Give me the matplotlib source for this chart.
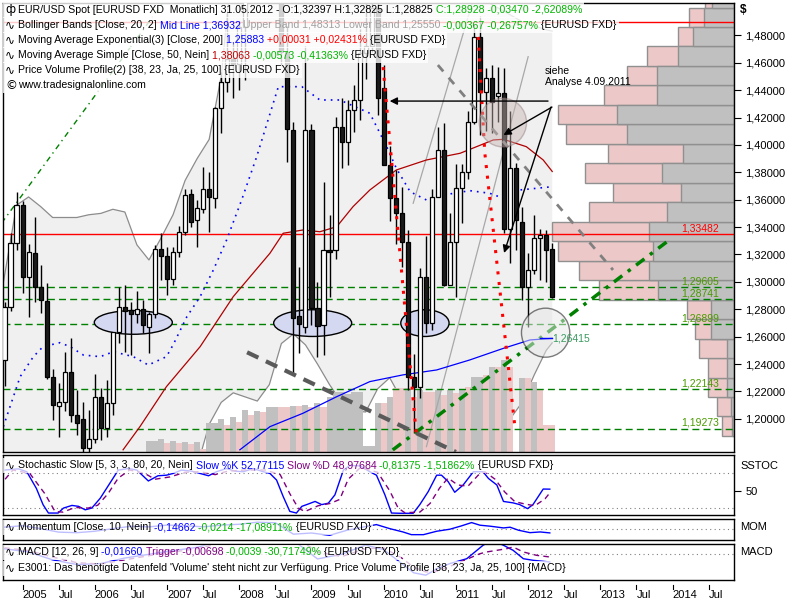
import matplotlib
matplotlib.use("Agg")
import matplotlib.pyplot as plt
import numpy as np
from matplotlib.patches import Ellipse, Rectangle
from matplotlib.ticker import FuncFormatter

plt.rcParams['font.family'] = ['Liberation Sans', 'DejaVu Sans']

# month index 0 = Oct 2004 ... 91 = May 2012
opens = [1.2430, 1.2813, 1.3286, 1.3560, 1.3038, 1.3209, 1.2960, 1.2861, 1.2308, 1.2095,
         1.2125, 1.2340, 1.2028, 1.1997, 1.1785, 1.1851, 1.2157, 1.1931, 1.2118, 1.2632,
         1.2815, 1.2795, 1.2766, 1.2805, 1.2673, 1.2764, 1.3238, 1.3189, 1.3019, 1.3220,
         1.3366, 1.3639, 1.3452, 1.3530, 1.3676, 1.3610, 1.4267, 1.4461, 1.4630, 1.4590,
         1.4860, 1.5185, 1.5790, 1.5600, 1.5550, 1.5765, 1.5605, 1.4675, 1.4109, 1.2750,
         1.2673, 1.4109, 1.2807, 1.2685, 1.3233, 1.3233, 1.4133, 1.4023, 1.4255, 1.4328,
         1.4669, 1.4720, 1.5000, 1.4413, 1.3853, 1.3610, 1.3501, 1.3293, 1.2308, 1.2235,
         1.3038, 1.2698, 1.3622, 1.3963, 1.2977, 1.3293, 1.3683, 1.3804, 1.4169, 1.4790,
         1.4388, 1.4486, 1.4357, 1.4377, 1.3384, 1.3829, 1.3440, 1.2965, 1.3087, 1.3318,
         1.3342, 1.32397]
highs = [1.2850, 1.3357, 1.3656, 1.3590, 1.3277, 1.3474, 1.3123, 1.2990, 1.2364, 1.2260,
         1.2486, 1.2588, 1.2211, 1.2125, 1.2065, 1.2328, 1.2223, 1.2284, 1.2632, 1.2965,
         1.2977, 1.2856, 1.2936, 1.2868, 1.2780, 1.3269, 1.3359, 1.3257, 1.3255, 1.3408,
         1.3676, 1.3680, 1.3598, 1.3841, 1.3800, 1.4280, 1.4534, 1.4965, 1.4750, 1.4905,
         1.5240, 1.5905, 1.6020, 1.5845, 1.5845, 1.6040, 1.5630, 1.4865, 1.4169, 1.3111,
         1.4720, 1.4150, 1.3000, 1.3731, 1.3490, 1.4206, 1.4340, 1.4328, 1.4437, 1.4845,
         1.5065, 1.5145, 1.5145, 1.4580, 1.3990, 1.3815, 1.3690, 1.3380, 1.2470, 1.3100,
         1.3335, 1.3680, 1.4133, 1.4158, 1.3500, 1.3860, 1.3860, 1.4250, 1.4880, 1.4940,
         1.4559, 1.4580, 1.4571, 1.4560, 1.4250, 1.3870, 1.3550, 1.3209, 1.3485, 1.3385,
         1.3380, 1.32825]
lows = [1.2240, 1.2790, 1.3230, 1.2921, 1.2742, 1.2853, 1.2771, 1.2290, 1.1992, 1.1870,
        1.2060, 1.1980, 1.1883, 1.1640, 1.1710, 1.1824, 1.1846, 1.1870, 1.2028, 1.2556,
        1.2490, 1.2466, 1.2698, 1.2625, 1.2483, 1.2734, 1.3014, 1.2904, 1.2977, 1.3180,
        1.3340, 1.3403, 1.3257, 1.3500, 1.3366, 1.3537, 1.4087, 1.4388, 1.4340, 1.4400,
        1.4474, 1.5075, 1.5515, 1.5285, 1.5305, 1.5535, 1.4580, 1.3877, 1.2333, 1.2479,
        1.2624, 1.2686, 1.2455, 1.2466, 1.2890, 1.3165, 1.3829, 1.3850, 1.4096, 1.4182,
        1.4480, 1.4680, 1.4215, 1.3850, 1.3445, 1.3275, 1.3110, 1.2211, 1.1897, 1.2150,
        1.2625, 1.2650, 1.3650, 1.2970, 1.3000, 1.2892, 1.3430, 1.3750, 1.4150, 1.4072,
        1.4100, 1.4087, 1.4169, 1.3360, 1.3140, 1.3230, 1.2868, 1.2673, 1.3060, 1.3014,
        1.3000, 1.28825]
closes = [1.2813, 1.3286, 1.3560, 1.3038, 1.3220, 1.2960, 1.2868, 1.2308, 1.2101, 1.2125,
          1.2340, 1.2028, 1.1972, 1.1785, 1.1851, 1.2157, 1.1931, 1.2118, 1.2632, 1.2815,
          1.2790, 1.2766, 1.2805, 1.2686, 1.2764, 1.3238, 1.3189, 1.3019, 1.3220, 1.3362,
          1.3634, 1.3440, 1.3537, 1.3676, 1.3622, 1.4267, 1.4461, 1.4630, 1.4590, 1.4860,
          1.5185, 1.5790, 1.5600, 1.5550, 1.5765, 1.5605, 1.4675, 1.4115, 1.2734, 1.2693,
          1.4109, 1.2807, 1.2678, 1.3233, 1.3220, 1.4133, 1.4023, 1.4255, 1.4328, 1.4669,
          1.4720, 1.5000, 1.4340, 1.3853, 1.3610, 1.3501, 1.3293, 1.2308, 1.2235, 1.3038,
          1.2698, 1.3622, 1.3963, 1.2977, 1.3293, 1.3683, 1.3804, 1.4169, 1.4790, 1.4388,
          1.4486, 1.4315, 1.4377, 1.3384, 1.3829, 1.3452, 1.2965, 1.3087, 1.3318, 1.3342,
          1.3233, 1.28928]

# Bollinger bands
bb_i = [-0.25, 2, 4, 6, 8, 10, 12, 14, 16, 18, 20, 22, 24, 26, 28, 30, 32, 34, 36, 38,
        40, 42, 44, 46, 48, 50, 52, 54, 56, 58, 60, 62, 64, 66, 68, 70, 72, 74, 76, 78,
        80, 82, 84, 86, 88, 90, 91]
bb_upper = [1.298, 1.356, 1.362, 1.355, 1.347, 1.347, 1.347, 1.349, 1.350, 1.353, 1.351,
            1.327, 1.316, 1.332, 1.349, 1.374, 1.390, 1.404, 1.450, 1.54, 1.60, 1.64, 1.66,
            1.67, 1.68, 1.67, 1.66, 1.64, 1.62, 1.60, 1.58, 1.57, 1.565, 1.56, 1.56, 1.55,
            1.54, 1.53, 1.52, 1.51, 1.505, 1.50, 1.495, 1.49, 1.487, 1.484, 1.4831]
bb_lower = [1.13, 1.13, 1.13, 1.13, 1.13, 1.13, 1.13, 1.13, 1.13, 1.13, 1.13, 1.13, 1.13,
            1.13, 1.14, 1.15, 1.165, 1.196, 1.212, 1.219, 1.216, 1.213, 1.225, 1.255, 1.262,
            1.254, 1.240, 1.225, 1.212, 1.206, 1.205, 1.222, 1.230, 1.214, 1.196, 1.182,
            1.176, 1.172, 1.172, 1.176, 1.180, 1.190, 1.200, 1.212, 1.232, 1.250, 1.2555]
mid_i = [-0.2, 2.6, 4.8, 6.4, 9.2, 10.9, 13.1, 15.9, 18.1, 21.4, 23.9, 26.9, 28.0, 30.3,
         32.5, 34.7, 36.9, 39.4, 41.9, 45.5, 49.4, 52.4, 55.7, 60.7, 63.5, 65.1, 67.4,
         70.1, 72.9, 77.3, 80.6, 82.9, 85.6, 90.6]
mid_p = [1.1943, 1.2308, 1.2454, 1.2527, 1.2556, 1.2527, 1.2466, 1.2454, 1.2490, 1.2454,
         1.2393, 1.2454, 1.2539, 1.2746, 1.2892, 1.3087, 1.3306, 1.3598, 1.3914, 1.4425,
         1.4425, 1.4328, 1.4328, 1.4231, 1.3987, 1.3829, 1.3658, 1.3598, 1.3634, 1.3666,
         1.3647, 1.3610, 1.3671, 1.3693]

sma_i = [19.7, 22.5, 26.9, 32.5, 38.0, 44.1, 46.3, 49.6, 52.4, 55.2, 57.9, 60.7, 65.1,
         70.1, 75.7, 81.2, 82.9, 86.7, 89.5, 91.0]
sma_p = [1.1774, 1.1943, 1.2235, 1.2527, 1.2892, 1.3209, 1.3355, 1.3379, 1.3366, 1.3403,
         1.3549, 1.3671, 1.3817, 1.3890, 1.3939, 1.4036, 1.4041, 1.3987, 1.3890, 1.3806]
ema_i = [39.1, 44.1, 49.6, 55.2, 60.7, 66.2, 71.8, 77.3, 82.9, 87.3, 91.0]
ema_p = [1.1774, 1.1943, 1.2041, 1.2162, 1.2272, 1.2321, 1.2357, 1.2430, 1.2515, 1.2576,
         1.2588]

# price volume profile, 23 rows between period low and high
pvp_low, pvp_high, pvp_rows = 1.1875, 1.5145, 23
pvp_total = [11.7, 17.3, 25.7, 25.7, 34.7, 38.7, 47.3, 135.3, 154.7, 175.7, 181.7, 144.7,
             120.7, 148.7, 126.3, 168.3, 175.7, 129.7, 107.3, 86.7, 55.7, 44.7, 29.0]
pvp_grey = [2.0, 3.0, 6.7, 6.7, 6.7, 23.3, 23.3, 75.7, 84.7, 81.3, 84.7, 67.3, 53.3, 72.3,
            50.7, 106.7, 117.3, 76.7, 76.7, 55.7, 40.7, 29.7, 22.0]

# volume histogram at the bottom of the price panel
vol_i = list(range(24, 92))
vol_h = [11, 11, 13, 9, 11, 9, 10, 8, 10, 3, 29, 29, 33, 27, 35, 30, 42, 37, 41, 40,
         45, 45, 45, 45, 46, 46, 47, 45, 49, 45, 55, 60, 60, 58, 60, 60, 6, 6, 49, 49,
         55, 64, 64, 64, 55, 62, 60, 60, 62, 57, 62, 59, 62, 65, 75, 75, 77, 85, 85, 92,
         85, 0, 74, 74, 70, 62, 27, 27]
vol_pink = [0, 0, 0, 1, 0, 1, 0, 1, 0, 1, 0, 0, 0, 1, 0, 1, 0, 1, 0, 1,
            0, 0, 1, 1, 0, 1, 0, 1, 0, 1, 0, 0, 0, 0, 0, 0, 0, 0, 0, 1,
            0, 1, 1, 0, 1, 0, 1, 1, 0, 1, 0, 1, 0, 1, 0, 0, 1, 0, 1, 0,
            1, 0, 0, 1, 0, 1, 1, 1]

levels_green = [1.29605, 1.28741, 1.26899, 1.22143, 1.19273]
level_red = 1.33482
level_top = 1.4899

stoch_k_i = [0.1, 2.3, 3.7, 5.3, 6.4, 7.3, 8.9, 9.8, 11.2, 12.3, 13.4, 14.5, 15.9, 17.5,
             18.9, 20.6, 22.0, 23.9, 25.5, 26.9, 28.0, 29.4, 31.1, 32.5, 33.9, 35.2, 36.9,
             38.3, 39.7, 41.3, 43.0, 44.1, 45.2, 46.3, 47.4, 48.5, 49.4, 50.2, 51.6, 52.7,
             53.8, 54.9, 56.3, 57.4, 59.1, 60.7, 61.8, 63.2, 64.3, 65.7, 67.9, 69.0, 70.4,
             71.8, 72.6, 73.7, 74.8, 76.2, 77.9, 79.5, 80.4, 81.8, 82.9, 84.5, 85.6, 86.9,
             87.8, 89.5, 90.6]
stoch_k = [86, 88, 83, 54, 26, 11.4, 11.4, 20, 24.6, 23, 17, 20, 37, 63, 85.8, 88.6, 85.8,
           67, 76, 77, 80, 85.8, 84, 80, 76, 83, 88.6, 84, 83, 88.6, 83, 80, 68.6, 40, 14.3,
           11.4, 23, 26, 31.5, 26, 28.5, 43, 85.8, 94, 93, 83, 77, 43, 11.4, 11, 11, 26,
           48.6, 77, 77, 66, 47.4, 60, 83, 83, 71.4, 60, 31.5, 29, 26, 19, 26, 53, 52.8]
stoch_d_i = [0.1, 1.4, 4.2, 6.7, 8.4, 9.7, 11.7, 13.9, 15.5, 17.2, 18.9, 20.8, 23.3, 25.0,
             27.5, 30.0, 32.5, 35.0, 37.1, 39.9, 43.3, 45.8, 47.4, 48.8, 49.9, 52.1, 54.1,
             55.7, 57.1, 59.1, 62.0, 64.0, 65.4, 66.5, 69.0, 70.7, 72.3, 73.7, 75.3, 77.0,
             78.7, 79.8, 81.5, 83.1, 84.8, 86.5, 88.1, 89.8, 90.8]
stoch_d = [70, 86, 80, 45, 14, 13, 21, 20, 25, 45, 72, 86, 80, 70, 74, 82, 83, 78, 84, 86,
           86, 78, 45, 20, 14, 24, 28, 35, 70, 90, 82, 50, 20, 12, 13, 28, 55, 72, 60, 58,
           77, 83, 70, 48, 31, 27, 24, 36, 49]

mom_i = [0, 3, 6, 9, 12, 15, 18, 21, 24, 27, 30, 33, 36, 39, 42, 45, 48, 51, 54, 57, 60,
         61.8, 64.0, 66.2, 67.6, 69.6, 71.8, 74.0, 75.9, 77.6, 79.0, 80.7, 82.9, 84.0,
         85.4, 87.3, 89.0, 90.6]
mom_v = [0.05, 0.10, 0.0, -0.12, -0.14, -0.09, 0.0, 0.08, 0.06, 0.12, 0.10, 0.06, 0.12,
         0.15, 0.22, 0.20, -0.19, -0.15, -0.23, -0.05, 0.07, 0.138, 0.0, -0.114, -0.207,
         -0.207, -0.09, -0.02, 0.093, 0.207, 0.117, 0.083, 0.024, 0.048, -0.055, -0.138,
         -0.114, -0.147]

macd_i = [0, 4, 8, 12, 16, 20, 24, 28, 32, 36, 40, 44, 48, 52, 56, 60, 63, 66, 68, 70,
          72, 74, 76.8, 79.5, 81, 82.9, 84.5, 86.2, 87.8, 89.5, 90.6]
macd_v = [0.012, 0.005, -0.012, -0.022, -0.02, -0.008, 0.0, 0.008, 0.015, 0.03, 0.045,
          0.058, 0.03, -0.01, 0.0, 0.02, 0.01, -0.02, -0.04, -0.045, -0.03, -0.02, -0.0095,
          0.0194, 0.030, 0.0194, 0.0086, -0.0095, -0.0129, -0.0151, -0.0166]
trig_i = [0, 4, 8, 12, 16, 20, 24, 28, 32, 36, 40, 44, 48, 52, 56, 60, 63, 66, 68, 70,
          72, 74, 76, 79.0, 80.1, 81.8, 83.4, 84.5, 86.2, 88.4, 90.6]
trig_v = [0.014, 0.008, -0.006, -0.018, -0.021, -0.012, -0.003, 0.005, 0.012, 0.025,
          0.038, 0.052, 0.04, 0.005, -0.005, 0.012, 0.014, -0.008, -0.028, -0.038, -0.036,
          -0.026, -0.015, 0.0013, 0.005, 0.0086, 0.012, 0.0157, 0.005, -0.0022, -0.0058]

year_labels = ['2005', 'Jul', '2006', 'Jul', '2007', 'Jul', '2008', 'Jul', '2009', 'Jul',
               '2010', 'Jul', '2011', 'Jul', '2012', 'Jul', '2013', 'Jul', '2014', 'Jul']
year_ticks = [3 + 6 * k for k in range(len(year_labels))]

W, H = 800, 600
XMIN, XMAX = -0.25, 121.2
YMIN, YMAX = 1.1758, 1.5036

fig = plt.figure(figsize=(8, 6), dpi=100)


def fbox(x0, y0, x1, y1):
    # pixel box (from top left) -> figure fraction rect
    return [x0 / W, 1 - y1 / H, (x1 - x0) / W, (y1 - y0) / H]


ax = fig.add_axes(fbox(3, 3, 734, 452))
ax_st = fig.add_axes(fbox(3, 455, 734, 515))
ax_mo = fig.add_axes(fbox(3, 519, 734, 540))
ax_ma = fig.add_axes(fbox(3, 544, 734, 580))

for a in (ax, ax_st, ax_mo, ax_ma):
    a.set_xlim(XMIN, XMAX)
    for s in a.spines.values():
        s.set_linewidth(1)
        s.set_color('black')
    a.tick_params(axis='x', bottom=False, labelbottom=False)

# ---------- main price panel ----------
ax.set_ylim(YMIN, YMAX)
ax.fill_between(bb_i, bb_lower, bb_upper, color='#f0f0f0', lw=0, zorder=0.5)
ax.plot(bb_i, bb_upper, color='#8c8c8c', lw=0.9, zorder=1)
ax.plot(bb_i, bb_lower, color='#8c8c8c', lw=0.9, zorder=1)

# volume histogram
xt = ax.get_xaxis_transform()
for i, h, pk in zip(vol_i, vol_h, vol_pink):
    ax.add_patch(Rectangle((i - 0.5, 0), 1.0, h / 449.0, transform=xt,
                           facecolor='#ecc8c8' if pk else '#c0c0c0', lw=0, zorder=1.2))

# price volume profile on the right
yt = ax.get_yaxis_transform()
edges = np.linspace(pvp_low, pvp_high, pvp_rows + 1)
for k in range(pvp_rows):
    b0, b1 = edges[k], edges[k + 1]
    tot, gr = pvp_total[k] / 731.0, pvp_grey[k] / 731.0
    ax.add_patch(Rectangle((1 - tot, b0), tot, b1 - b0, transform=yt, facecolor='#ecc8c8',
                           edgecolor='#909090', lw=1, zorder=1.3))
    ax.add_patch(Rectangle((1 - gr, b0), gr, b1 - b0, transform=yt, facecolor='#c0c0c0',
                           edgecolor='#909090', lw=1, zorder=1.35))

# horizontal levels
for lv in levels_green:
    ax.axhline(lv, color='#008000', lw=1, ls=(0, (5, 3)), zorder=2)
ax.axhline(level_red, color='#ff0000', lw=1, zorder=2)
ax.axhline(level_top, color='#ff0000', lw=1, zorder=2)

# moving averages
ax.plot(mid_i, mid_p, color='#0000ff', lw=1.2, ls=(0, (1, 3)), zorder=2)
ax.plot(sma_i, sma_p, color='#b00000', lw=0.9, zorder=2)
ax.plot(ema_i, ema_p, color='#0000ff', lw=0.9, zorder=2)

# drawing tools
ax.plot([-0.47, 26.3], [1.3430, 1.5036], color='#008000', lw=1, ls=(0, (4, 3, 1, 3)), zorder=2)
ax.plot([64.5, 110.3], [1.1773, 1.3301], color='#008000', lw=2.5, ls=(0, (3, 2, 1, 2)),
        zorder=4)
ax.plot([40.3, 75.0], [1.2486, 1.1758], color='#5a5a5a', lw=3, ls=(0, (3, 2)), zorder=4)
ax.plot([72.0, 101.1], [1.4583, 1.3087], color='#808080', lw=2, ls=(0, (3, 3)), zorder=4)
ax.plot([67.9, 77.7], [1.3574, 1.5036], color='#a8a8a8', lw=0.9, zorder=1.5)
ax.plot([70.1, 87.0], [1.1797, 1.4644], color='#a8a8a8', lw=0.9, zorder=1.5)
ax.plot([62.9, 68.4], [1.4568, 1.1897], color='#ff0000', lw=2.2, ls=(0, (1, 2.5)), zorder=4)
ax.plot([78.7, 79.8, 84.8], [1.4788, 1.3941, 1.1941], color='#ff0000', lw=2.2,
        ls=(0, (1, 2.5)), zorder=4)

# ellipses
for cx, cy, w, h in [(21.4, 1.2704, 12.96, 0.0173), (51.2, 1.2699, 12.96, 0.0195),
                     (69.85, 1.2699, 8.02, 0.0195)]:
    ax.add_patch(Ellipse((cx, cy), w, h, facecolor='#d4d8f0', edgecolor='black', lw=1,
                         zorder=2.5))
ax.add_patch(Ellipse((82.8, 1.4163), 7.86, 0.0355, facecolor='#c8b4b4', alpha=0.45,
                     edgecolor='#907878', lw=1, zorder=5))
ax.add_patch(Ellipse((89.9, 1.2629), 8.02, 0.0358, facecolor='#e8e8e8', alpha=0.5,
                     edgecolor='black', lw=1, zorder=5))

# candles
idx = np.arange(len(closes))
o, hi, lo, c = map(np.array, (opens, highs, lows, closes))
ax.vlines(idx, lo, hi, color='black', lw=1, zorder=3)
up = c >= o
ax.bar(idx[up], (c - o)[up], bottom=o[up], width=0.68, color='white', edgecolor='black',
       lw=0.9, zorder=3.2)
ax.bar(idx[~up], (o - c)[~up], bottom=c[~up], width=0.68, color='#1a1a1a',
       edgecolor='black', lw=0.9, zorder=3.2)

# arrows and note
ap = dict(arrowstyle='-|>', color='black', lw=1, mutation_scale=11, shrinkA=0, shrinkB=0)
ax.annotate('', xy=(64.0, 1.432), xytext=(90.3, 1.432), arrowprops=ap, zorder=6)
ax.annotate('', xy=(82.9, 1.4072), xytext=(90.95, 1.4276), arrowprops=ap, zorder=6)
ax.annotate('', xy=(83.0, 1.3211), xytext=(90.8, 1.4276), arrowprops=ap, zorder=6)
ax.text(89.8, 1.4578, 'siehe\nAnalyse 4.09.2011', fontsize=7.5, va='top', ha='left',
        linespacing=1.15, zorder=6)

fmt5 = lambda v: f"{v:.5f}".replace('.', ',')
for lv in levels_green:
    ax.text(112.5, lv + 0.0008, fmt5(lv), color='#4a9a00', fontsize=7.5, va='bottom',
            ha='left', zorder=6)
ax.text(112.5, level_red + 0.0008, fmt5(level_red), color='#ff0000', fontsize=7.5,
        va='bottom', ha='left', zorder=6)
ax.plot([89.0, 91.0], [1.2588, 1.2588], color='#0000ff', lw=1, zorder=6)
ax.text(91.0, 1.2588, '1,26415', color='#3a9a60', fontsize=7.5, va='center', ha='left',
        zorder=6)

ax.yaxis.tick_right()
ax.set_yticks(np.arange(1.20, 1.481, 0.02))
ax.yaxis.set_major_formatter(FuncFormatter(lambda v, p: fmt5(v)))
ax.tick_params(axis='y', length=5, width=0.8, pad=3, labelsize=8)

# ---------- stochastic ----------
ax_st.set_ylim(8, 112)
ax_st.axhline(80, color='#808080', lw=0.8, ls=(0, (1, 3)))
ax_st.axhline(20, color='#808080', lw=0.8, ls=(0, (1, 3)))
ax_st.plot(stoch_k_i, stoch_k, color='#0000ff', lw=1)
ax_st.plot(stoch_d_i, stoch_d, color='#800080', lw=1, ls=(0, (4, 3)))
ax_st.yaxis.tick_right()
ax_st.set_yticks([50])
ax_st.set_yticklabels(['50'])
ax_st.tick_params(axis='y', length=5, width=0.8, pad=3, labelsize=8)

# ---------- momentum ----------
ax_mo.set_ylim(-0.39, 0.33)
ax_mo.axhline(0, color='#808080', lw=0.8, ls=(0, (1, 3)))
ax_mo.plot(mom_i, mom_v, color='#0000ff', lw=1)
ax_mo.set_yticks([])

# ---------- MACD ----------
ax_ma.set_ylim(-0.0554, 0.0222)
ax_ma.axhline(0, color='#808080', lw=0.8, ls=(0, (1, 3)))
ax_ma.plot(macd_i, macd_v, color='#0000ff', lw=1)
ax_ma.plot(trig_i, trig_v, color='#800080', lw=1, ls=(0, (4, 3)))
ax_ma.set_yticks([])
ax_ma.set_xticks(year_ticks)
ax_ma.set_xticklabels(year_labels)
ax_ma.tick_params(axis='x', bottom=True, labelbottom=True, length=0, pad=7, labelsize=8)
for lab in ax_ma.get_xticklabels():
    lab.set_horizontalalignment('left')
bt = ax_ma.get_xaxis_transform()
for t in year_ticks:
    ax_ma.plot([t, t], [-0.15, -0.24], color='black', lw=0.8, transform=bt, clip_on=False)

# ---------- header / legend texts ----------
renderer = fig.canvas.get_renderer()
FS = 7.6


def text_width(s, fs):
    t1 = fig.text(0, 0, s + '|', fontsize=fs)
    t2 = fig.text(0, 0, '|', fontsize=fs)
    w = t1.get_window_extent(renderer).width - t2.get_window_extent(renderer).width
    t1.remove()
    t2.remove()
    return w


def legend_line(y, parts, icon='\u223f', x0=3, fs=FS, alpha=0.8):
    x = x0 + 15
    placed = []
    for s, col in parts:
        placed.append((x, s, col))
        x += text_width(s, fs)
    fig.patches.append(Rectangle(((x0) / W, 1 - (y + 7.5) / H), (x + 2 - x0) / W, 15 / H,
                                 transform=fig.transFigure, facecolor='white', alpha=alpha,
                                 lw=0, zorder=4))
    if icon:
        fig.text((x0 + 2) / W, 1 - y / H, icon, fontsize=fs + 1, va='center', ha='left',
                 family='DejaVu Sans', zorder=5)
    for px, s, col in placed:
        fig.text(px / W, 1 - y / H, s, color=col, fontsize=fs, va='center', ha='left',
                 zorder=5)


BLK, BLU, GRN, RED, GRY, PUR = 'black', '#0000ff', '#00b400', '#ff0000', '#a0a0a0', '#800080'
legend_line(10, [('EUR/USD Spot [EURUSD FXD  Monatlich] 31.05.2012 - O:1,32397 H:1,32825 '
                  'L:1,28825 ', BLK), ('C:1,28928 -0,03470 -2,62089%', GRN)], icon='\u0444')
legend_line(25, [('Bollinger Bands [Close, 20, 2] ', BLK), ('Mid Line 1,36932 ', BLU),
                 ('Upper Band 1,48313 Lower Band 1,25550 ', GRY),
                 ('-0,00367 -0,26757% ', GRN), ('{EURUSD FXD}', BLK)])
legend_line(40, [('Moving Average Exponential(3) [Close, 200] ', BLK), ('1,25883 ', BLU),
                 ('+0,00031 +0,02431% ', RED), ('{EURUSD FXD}', BLK)])
legend_line(55, [('Moving Average Simple [Close, 50, Nein] ', BLK), ('1,38063 ', '#c00000'),
                 ('-0,00573 -0,41363% ', GRN), ('{EURUSD FXD}', BLK)])
legend_line(70, [('Price Volume Profile(2) [38, 23, Ja, 25, 100] {EURUSD FXD}', BLK)])
legend_line(85.5, [('www.tradesignalonline.com', BLK)], icon='\u00a9')

legend_line(465, [('Stochastic Slow [5, 3, 3, 80, 20, Nein] ', BLK),
                  ('Slow %K 52,77115 ', BLU), ('Slow %D 48,97684 ', PUR),
                  ('-0,81375 -1,51862% ', GRN), ('{EURUSD FXD}', BLK)], alpha=0.75)
legend_line(527, [('Momentum [Close, 10, Nein] ', BLK), ('-0,14662 ', BLU),
                  ('-0,0214 -17,08911% ', GRN), ('{EURUSD FXD}', BLK)], alpha=0.75)
legend_line(552, [('MACD [12, 26, 9] ', BLK), ('-0,01660 ', BLU),
                  ('Trigger -0,00698 ', PUR), ('-0,0039 -30,71749% ', GRN),
                  ('{EURUSD FXD}', BLK)], alpha=0.75)
legend_line(568, [("E3001: Das benötigte Datenfeld 'Volume' steht nicht zur Verfügung. "
                   "Price Volume Profile [38, 23, Ja, 25, 100] {MACD}", BLK)], alpha=0.75)

fig.text(740 / W, 1 - 10 / H, '$', fontsize=8.5, fontweight='bold', va='center')
fig.text(740 / W, 1 - 466 / H, 'SSTOC', fontsize=8, va='center')
fig.text(740 / W, 1 - 527 / H, 'MOM', fontsize=8, va='center')
fig.text(740 / W, 1 - 552 / H, 'MACD', fontsize=8, va='center')

fig.savefig('out.png', dpi=100, facecolor='white')
